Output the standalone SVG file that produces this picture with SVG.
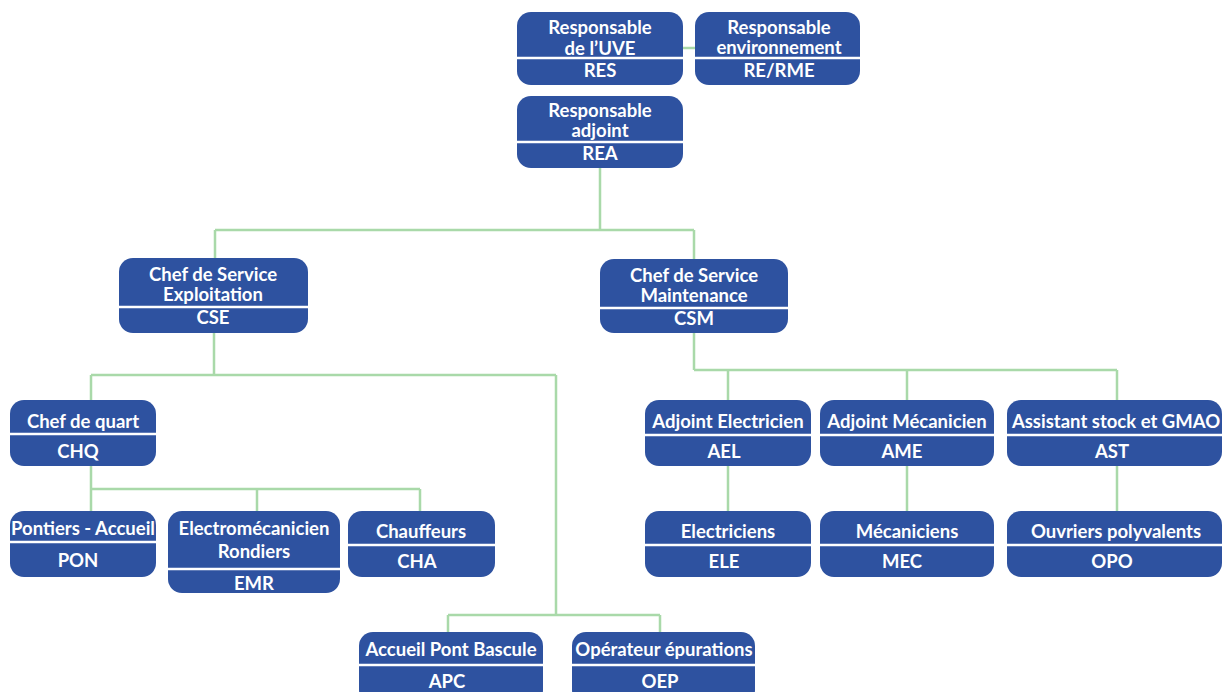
<svg xmlns="http://www.w3.org/2000/svg" width="1224" height="692" viewBox="0 0 1224 692">
<style>
.box{fill:#2E52A0;}
.div{stroke:#FFFFFF;stroke-width:2.5;}
.t{font-family:Lato,"Open Sans","Noto Sans",sans-serif;font-weight:700;font-size:18.5px;fill:#FFFFFF;text-anchor:middle;}
.c{fill:none;stroke:#A9D9A9;stroke-width:2.5;}
</style>
<rect width="1224" height="692" fill="#FFFFFF"/>
<g id="connectors">
<path class="c" d="M683 48H695"/>
<path class="c" d="M600 168V230M215 230H694M215 230V258M694 230V259"/>
<path class="c" d="M214 333V375M91 375H556M91 375V400M556 375V615M448 615H660M448 615V632M660 615V632"/>
<path class="c" d="M91 466V489M91 489H420M91 489V511M257 489V511M420 489V511"/>
<path class="c" d="M694 333V370M694 370H1117M728 370V400M907 370V400M1117 370V400"/>
<path class="c" d="M728 466V511M907 466V511M1117 466V511"/>
</g>
<g id="RES">
<rect class="box" x="517" y="12" width="166" height="73" rx="14"/>
<line class="div" x1="517" y1="58" x2="683" y2="58"/>
<text class="t" x="600" y="34">Responsable</text>
<text class="t" x="600" y="55">de l’UVE</text>
<text class="t" x="600" y="77">RES</text>
</g>
<g id="RE">
<rect class="box" x="695" y="12" width="165" height="73" rx="14"/>
<line class="div" x1="695" y1="58" x2="860" y2="58"/>
<text class="t" x="779" y="34">Responsable</text>
<text class="t" x="779" y="54">environnement</text>
<text class="t" x="779" y="77">RE/RME</text>
</g>
<g id="REA">
<rect class="box" x="517" y="96" width="166" height="72" rx="14"/>
<line class="div" x1="517" y1="142" x2="683" y2="142"/>
<text class="t" x="600" y="117">Responsable</text>
<text class="t" x="600" y="137">adjoint</text>
<text class="t" x="600" y="160">REA</text>
</g>
<g id="CSE">
<rect class="box" x="119" y="258" width="189" height="75" rx="14"/>
<line class="div" x1="119" y1="307" x2="308" y2="307"/>
<text class="t" x="213" y="281">Chef de Service</text>
<text class="t" x="213" y="301">Exploitation</text>
<text class="t" x="213" y="324">CSE</text>
</g>
<g id="CSM">
<rect class="box" x="600" y="259" width="188" height="74" rx="14"/>
<line class="div" x1="600" y1="308" x2="788" y2="308"/>
<text class="t" x="694" y="282">Chef de Service</text>
<text class="t" x="694" y="302">Maintenance</text>
<text class="t" x="694" y="325">CSM</text>
</g>
<g id="CHQ">
<rect class="box" x="10" y="400" width="146" height="66" rx="14"/>
<line class="div" x1="10" y1="434" x2="156" y2="434"/>
<text class="t" x="83" y="428">Chef de quart</text>
<text class="t" x="78" y="458">CHQ</text>
</g>
<g id="PON">
<rect class="box" x="10" y="511" width="146" height="66" rx="14"/>
<line class="div" x1="10" y1="542" x2="156" y2="542"/>
<text class="t" x="83" y="535">Pontiers - Accueil</text>
<text class="t" x="78" y="567">PON</text>
</g>
<g id="EMR">
<rect class="box" x="168" y="511" width="172" height="82" rx="14"/>
<line class="div" x1="168" y1="569" x2="340" y2="569"/>
<text class="t" x="254" y="535">Electromécanicien</text>
<text class="t" x="254" y="558">Rondiers</text>
<text class="t" x="254" y="590">EMR</text>
</g>
<g id="CHA">
<rect class="box" x="348" y="511" width="147" height="66" rx="14"/>
<line class="div" x1="348" y1="545" x2="495" y2="545"/>
<text class="t" x="421" y="538">Chauffeurs</text>
<text class="t" x="417" y="568">CHA</text>
</g>
<g id="APC">
<rect class="box" x="359" y="632" width="184" height="72" rx="14"/>
<line class="div" x1="359" y1="665" x2="543" y2="665"/>
<text class="t" x="451" y="656">Accueil Pont Bascule</text>
<text class="t" x="447" y="688">APC</text>
</g>
<g id="OEP">
<rect class="box" x="572" y="632" width="183" height="72" rx="14"/>
<line class="div" x1="572" y1="665" x2="755" y2="665"/>
<text class="t" x="664" y="656">Opérateur épurations</text>
<text class="t" x="660" y="688">OEP</text>
</g>
<g id="AEL">
<rect class="box" x="645" y="400" width="166" height="66" rx="14"/>
<line class="div" x1="645" y1="435" x2="811" y2="435"/>
<text class="t" x="728" y="428">Adjoint Electricien</text>
<text class="t" x="724" y="458">AEL</text>
</g>
<g id="AME">
<rect class="box" x="820" y="400" width="174" height="66" rx="14"/>
<line class="div" x1="820" y1="435" x2="994" y2="435"/>
<text class="t" x="907" y="428">Adjoint Mécanicien</text>
<text class="t" x="902" y="458">AME</text>
</g>
<g id="AST">
<rect class="box" x="1007" y="400" width="215" height="66" rx="14"/>
<line class="div" x1="1007" y1="435" x2="1222" y2="435"/>
<text class="t" x="1116" y="428">Assistant stock et GMAO</text>
<text class="t" x="1112" y="458">AST</text>
</g>
<g id="ELE">
<rect class="box" x="645" y="511" width="166" height="66" rx="14"/>
<line class="div" x1="645" y1="545" x2="811" y2="545"/>
<text class="t" x="728" y="538">Electriciens</text>
<text class="t" x="724" y="568">ELE</text>
</g>
<g id="MEC">
<rect class="box" x="820" y="511" width="174" height="66" rx="14"/>
<line class="div" x1="820" y1="545" x2="994" y2="545"/>
<text class="t" x="907" y="538">Mécaniciens</text>
<text class="t" x="902" y="568">MEC</text>
</g>
<g id="OPO">
<rect class="box" x="1007" y="511" width="215" height="66" rx="14"/>
<line class="div" x1="1007" y1="545" x2="1222" y2="545"/>
<text class="t" x="1116" y="538">Ouvriers polyvalents</text>
<text class="t" x="1112" y="568">OPO</text>
</g>
</svg>
